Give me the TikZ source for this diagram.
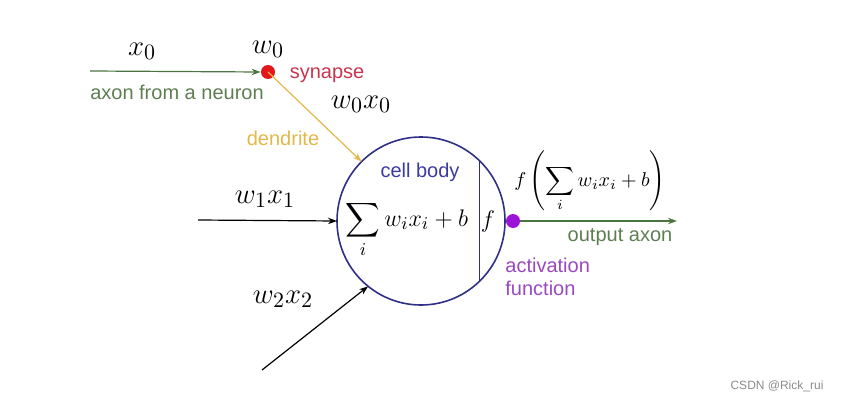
\documentclass[tikz,border=0pt]{standalone}
\usepackage{amsmath}
\usepackage{fontspec}
\setsansfont{Liberation Sans}
\usetikzlibrary{arrows.meta,positioning,calc}
\definecolor{axongreen}{HTML}{4A7440}
\definecolor{axontext}{HTML}{5E7E52}
\definecolor{synred}{HTML}{E3161B}
\definecolor{syntext}{HTML}{C8344E}
\definecolor{dendgold}{HTML}{E2B84A}
\definecolor{bodyblue}{HTML}{2F2F86}
\definecolor{bodytext}{HTML}{3B3BA0}
\definecolor{actpurple}{HTML}{9B12D9}
\definecolor{acttext}{HTML}{9A48C2}
\definecolor{marktext}{HTML}{8A8A8A}

\begin{document}
\begin{tikzpicture}[
    x=0.5pt, y=-0.5pt,
    >=Stealth,
    tag/.style={
        font=\fontsize{10pt}{11.5pt}\selectfont\sffamily, inner sep=0pt
    },
    mathtag/.style={
        font=\fontsize{13pt}{15pt}\selectfont, inner sep=0pt
    },
    weighttag/.style={
        font=\fontsize{15pt}{17pt}\selectfont, inner sep=0pt
    },
    dot/.style={
        circle, inner sep=0pt, minimum size=7pt
    },
    wire/.style={
        -{Stealth[length=4.5pt, width=3.2pt]}, line width=0.6pt
    }
]

\useasboundingbox (0,0) rectangle (844,401);

% ==================== CELL BODY ====================
\node[circle, draw=bodyblue, line width=0.8pt, minimum size=84pt, inner sep=0pt, outer sep=0pt] (body) at (421, 221) {};
\draw[draw=bodyblue, line width=0.8pt] (body.46.3) -- (body.-46.3);
\node[tag, text=bodytext] (bodylbl) at (420, 172) {cell body};
\node[mathtag, anchor=base] (sumlbl) at (407, 226) {$\displaystyle\sum_i w_i x_i + b$};
\node[mathtag, anchor=base] (flbl) at (488, 227) {$f$};

% ==================== INPUT 0 ====================
\coordinate (in0) at (90, 71);
\node[dot, fill=synred] (syn) at (268, 72) {};
\draw[wire, draw=axongreen] (in0) -- (syn.west);
\draw[wire, draw=dendgold] (syn.center) -- (body.135);

\node[weighttag] (x0lbl) at (142, 51) {$x_0$};
\node[weighttag] (w0lbl) at (268, 49) {$w_0$};
\node[tag, text=syntext] (synlbl) at (327, 75) {synapse};
\node[tag, text=axontext] (axonlbl) at (177, 92) {axon from a neuron};
\node[weighttag] (w0x0lbl) at (361, 104) {$w_0 x_0$};
\node[tag, text=dendgold] (dendlbl) at (283, 138) {dendrite};

% ==================== INPUTS 1 AND 2 ====================
\coordinate (in1) at (198, 220);
\coordinate (in2) at (262, 370);
\draw[wire, draw=black] (in1) -- (body.180);
\draw[wire, draw=black] (in2) -- (body.231.7);
\node[weighttag] (w1x1lbl) at (265, 199) {$w_1 x_1$};
\node[weighttag] (w2x2lbl) at (283, 299) {$w_2 x_2$};

% ==================== OUTPUT ====================
\node[dot, fill=actpurple] (act) at (513, 221) {};
\coordinate (out) at (677, 221);
\draw[wire, draw=axongreen] (act.east) -- (out);
\node[font=\fontsize{10pt}{12pt}\selectfont, inner sep=0pt, anchor=base] (outlbl) at (590, 186) {$\displaystyle f\left(\sum_i w_i x_i + b\right)$};
\node[tag, text=axontext] (outaxlbl) at (620, 237) {output axon};
\node[tag, text=acttext, align=left, anchor=west] (actlbl) at (505, 277) {activation\\function};

% ==================== WATERMARK ====================
\node[font=\fontsize{6pt}{7pt}\selectfont\sffamily, text=marktext, inner sep=0pt] (mark) at (777, 386) {CSDN @Rick\_rui};

\end{tikzpicture}
\end{document}
